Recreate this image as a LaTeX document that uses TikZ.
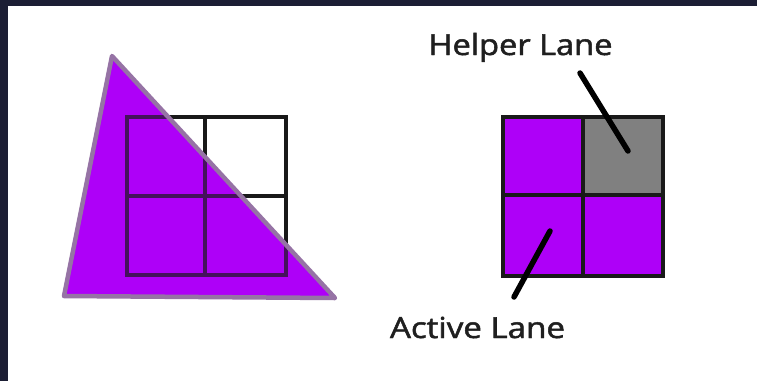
\documentclass[tikz,border=0pt]{standalone}
\usepackage{fontspec}
\setmainfont{Open Sans}
\newfontfamily\lanefont[FakeBold=1.6]{Open Sans}
\definecolor{bgdark}{RGB}{28,30,52}
\definecolor{lanepurple}{RGB}{174,0,248}
\definecolor{lanegray}{RGB}{128,128,128}
\definecolor{triedge}{RGB}{150,115,165}
\begin{document}
\begin{tikzpicture}[x=1pt,y=-1pt,
  gridline/.style={draw=black!90,line width=3.4pt},
  pointer/.style={draw=black,line width=5.5pt,line cap=round},
  lbl/.style={font=\lanefont\fontsize{29}{30}\selectfont,text=black!88,inner sep=0pt,anchor=base}]
\useasboundingbox (0,0) rectangle (757,381);
\fill[bgdark] (0,0) rectangle (757,381);
\fill[white] (8,6) rectangle (757,381);

% left: triangle over a 2x2 quad
\coordinate (ga) at (127,117);
\coordinate (gb) at (286,275);
\coordinate (tA) at (112,56);
\coordinate (tB) at (64,296);
\coordinate (tC) at (335,298);
\fill[lanepurple] (tA) -- (tB) -- (tC) -- cycle;
\draw[gridline] (ga) rectangle (gb);
\draw[gridline] (205,117) -- (205,275);
\draw[gridline] (127,196) -- (286,196);
\fill[lanepurple,opacity=0.3] (tA) -- (tB) -- (tC) -- cycle;
\draw[triedge,line width=4.5pt,line join=round] (tA) -- (tB) -- (tC) -- cycle;

% right: quad with helper lane
\fill[lanepurple] (503,117) rectangle (663,276);
\fill[lanegray] (583,117) rectangle (663,195);
\draw[gridline] (503,117) rectangle (663,276);
\draw[gridline] (583,117) -- (583,276);
\draw[gridline] (503,195) -- (663,195);

\node[lbl] (helper) at (520.5,55) {\resizebox{184pt}{\height}{Helper Lane}};
\node[lbl] (active) at (477.5,338) {\resizebox{175pt}{\height}{Active Lane}};
\coordinate (hs) at (580,73);
\coordinate (he) at (628,151);
\coordinate (as) at (550,231);
\coordinate (ae) at (514,297);
\draw[pointer] (hs) -- (he);
\draw[pointer] (as) -- (ae);
\end{tikzpicture}
\end{document}
